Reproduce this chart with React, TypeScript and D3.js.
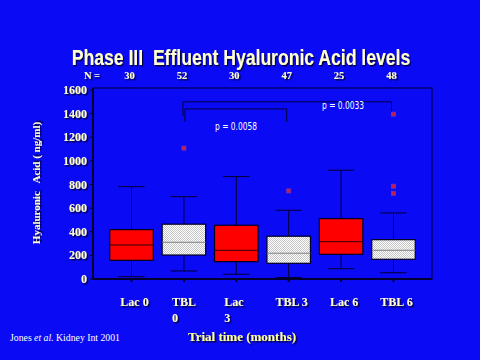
import React from "react";
import * as d3 from "d3";

const categories = ["Lac 0", "TBL 0", "Lac 3", "TBL 3", "Lac 6", "TBL 6"];
const labelLines = [["Lac 0"], ["TBL", "0"], ["Lac", "3"], ["TBL 3"], ["Lac 6"], ["TBL 6"]];
const nCounts = [30, 52, 30, 47, 25, 48];
const whiskerLow = [20, 68, 40, 12, 87, 53];
const q1 = [158, 203, 147, 133, 209, 167];
const median = [288, 311, 243, 218, 316, 243];
const q3 = [418, 464, 455, 362, 511, 333];
const whiskerHigh = [782, 697, 867, 582, 921, 559];
const outliers = [[], [1108], [], [746], [], [1396, 786, 726]];
const kind = ["lac", "tbl", "lac", "tbl", "lac", "tbl"];
const yTicks = [0, 200, 400, 600, 800, 1000, 1200, 1400, 1600];
const brackets = [
  { from: "TBL 0", to: "TBL 6", label: "p = 0.0033", level: 1500 },
  { from: "TBL 0", to: "TBL 3", label: "p = 0.0058", level: 1440 },
];

const W = 480, H = 360;
const plot = { left: 93, right: 432, top: 88, bottom: 279 };
const cream = "#FFFFD0";
const bg = "#0A0AF5";
const serif = "'Liberation Serif', 'DejaVu Serif', serif";
const sans = "'Liberation Sans', Arial, sans-serif";
const narrow = "'DejaVu Sans Condensed', 'Liberation Sans', sans-serif";

export default function App() {
  const x = d3.scalePoint<string>().domain(categories).range([plot.left, plot.right]).padding(0.735);
  const y = d3.scaleLinear().domain([0, 1600]).range([plot.bottom, 90]);
  const step = x.step();
  const bw = step * 0.83;
  const capW = step * 0.5;

  return (
    <svg width={W} height={H} style={{ display: "block", position: "absolute", left: 0, top: 0 }}>
      <defs>
        <pattern id="chk" width="2" height="2" patternUnits="userSpaceOnUse">
          <rect width="2" height="2" fill="#FFFFFF" />
          <rect width="1" height="1" fill="#C4C4C4" />
          <rect x="1" y="1" width="1" height="1" fill="#C4C4C4" />
        </pattern>
        <filter id="sh" x="-20%" y="-50%" width="140%" height="200%">
          <feDropShadow dx="1.5" dy="1.5" stdDeviation="0.3" floodColor="#000030" floodOpacity="0.9" />
        </filter>
      </defs>
      <rect width={W} height={H} fill={bg} />

      {/* Title */}
      <g transform="translate(241,65) scale(0.8,1)">
        <text x={0} y={0} textAnchor="middle" fill={cream} fontFamily={sans} fontWeight="bold"
          fontSize={22} filter="url(#sh)" style={{ whiteSpace: "pre" }}>
          {"Phase III  Effluent Hyaluronic Acid levels"}
        </text>
      </g>

      {/* N row */}
      <text x={92} y={79} textAnchor="middle" fill={cream} fontFamily={serif} fontWeight="bold" fontSize={10.5} filter="url(#sh)">N =</text>
      {categories.map((c, i) => (
        <text key={c} x={(x(c) as number) - 2} y={79} textAnchor="middle" fill={cream} fontFamily={serif}
          fontWeight="bold" fontSize={10.5} filter="url(#sh)">{nCounts[i]}</text>
      ))}

      {/* frame */}
      <rect x={plot.left} y={plot.top} width={plot.right - plot.left} height={plot.bottom - plot.top}
        fill="none" stroke="#000050" strokeWidth={1.2} />
      <line x1={plot.left} x2={plot.right} y1={plot.bottom} y2={plot.bottom} stroke="#000030" strokeWidth={2} />
      <line x1={plot.left} x2={plot.left} y1={plot.top} y2={plot.bottom} stroke="#000030" strokeWidth={2} />

      {/* y ticks */}
      {yTicks.map((t) => (
        <g key={t}>
          <line x1={plot.left - 3} x2={plot.left} y1={y(t)} y2={y(t)} stroke="#000030" />
          <text x={87} y={y(t) + 4} textAnchor="end" fill={cream} fontFamily={serif} fontWeight="bold"
            fontSize={12} filter="url(#sh)">{t}</text>
        </g>
      ))}
      {/* x ticks */}
      {categories.map((c) => (
        <line key={c} x1={x(c)} x2={x(c)} y1={plot.bottom} y2={plot.bottom + 3} stroke="#000030" strokeWidth={2} />
      ))}

      {/* y label */}
      <text transform={`translate(40,183) rotate(-90)`} textAnchor="middle" fill={cream} fontFamily={serif}
        fontWeight="bold" fontSize={11} filter="url(#sh)" style={{ whiteSpace: "pre" }}>
        {"Hyaluronic   Acid ( ng/ml)"}
      </text>

      {/* brackets */}
      {brackets.map((b, i) => {
        const x1 = (x(b.from) as number) + (i === 0 ? -1 : 1);
        const x2 = (x(b.to) as number) - 2;
        const yy = y(b.level);
        const drop = i === 0 ? 14 : 13;
        return (
          <g key={b.label}>
            <path d={`M${x1},${yy + drop}V${yy}H${x2}V${yy + (i === 0 ? 10 : drop)}`} fill="none" stroke="#000040" strokeWidth={1} />
          </g>
        );
      })}
      <text x={343} y={109} textAnchor="middle" fill="#FFFFFF" fontFamily={narrow} fontSize={10}
        textLength={42} lengthAdjust="spacingAndGlyphs">p = 0.0033</text>
      <text x={236} y={130} textAnchor="middle" fill="#FFFFFF" fontFamily={narrow} fontSize={10}
        textLength={42} lengthAdjust="spacingAndGlyphs">p = 0.0058</text>

      {/* boxes */}
      {categories.map((c, i) => {
        const cx = x(c) as number;
        const isLac = kind[i] === "lac";
        return (
          <g key={c}>
            <line x1={cx} x2={cx} y1={y(whiskerHigh[i])} y2={y(q3[i])} stroke="#000030" />
            <line x1={cx} x2={cx} y1={y(q1[i])} y2={y(whiskerLow[i])} stroke="#000030" />
            <line x1={cx - capW / 2} x2={cx + capW / 2} y1={y(whiskerHigh[i])} y2={y(whiskerHigh[i])} stroke="#000030" />
            <line x1={cx - capW / 2} x2={cx + capW / 2} y1={y(whiskerLow[i])} y2={y(whiskerLow[i])} stroke="#000030" />
            <rect x={cx - bw / 2} y={y(q3[i])} width={bw} height={y(q1[i]) - y(q3[i])}
              fill={isLac ? "#FF0000" : "url(#chk)"} stroke="#000020" strokeWidth={1.2} />
            <line x1={cx - bw / 2} x2={cx + bw / 2} y1={y(median[i])} y2={y(median[i])}
              stroke={isLac ? "#300000" : "#808080"} strokeWidth={1} />
            {outliers[i].map((o, k) => (
              <rect key={k} x={cx - 2} y={y(o) - 2} width={4} height={4} fill="#C02050" stroke="#8030A0" strokeWidth={0.8} />
            ))}
          </g>
        );
      })}

      {/* x labels */}
      {categories.map((c, i) => {
        const cx = x(c) as number;
        const lines = labelLines[i];
        if (lines.length === 1) {
          return (
            <text key={c} x={cx + 3} y={306} textAnchor="middle" fill={cream} fontFamily={serif} fontWeight="bold"
              fontSize={12} filter="url(#sh)">{lines[0]}</text>
          );
        }
        return (
          <text key={c} x={cx - 12} y={306} textAnchor="start" fill={cream} fontFamily={serif} fontWeight="bold"
            fontSize={12} filter="url(#sh)">
            <tspan x={cx - 12} y={306}>{lines[0]}</tspan>
            <tspan x={cx - 12} y={322}>{lines[1]}</tspan>
          </text>
        );
      })}

      {/* x title */}
      <text x={242} y={341} textAnchor="middle" fill="#FFFF99" fontFamily={serif} fontWeight="bold" fontSize={13}
        filter="url(#sh)">Trial time (months)</text>

      {/* citation */}
      <text x={10} y={341} fill="#FFFFFF" fontFamily={serif} fontSize={10} textLength={110} lengthAdjust="spacingAndGlyphs">
        Jones <tspan fontStyle="italic">et al.</tspan> Kidney Int 2001
      </text>
    </svg>
  );
}
